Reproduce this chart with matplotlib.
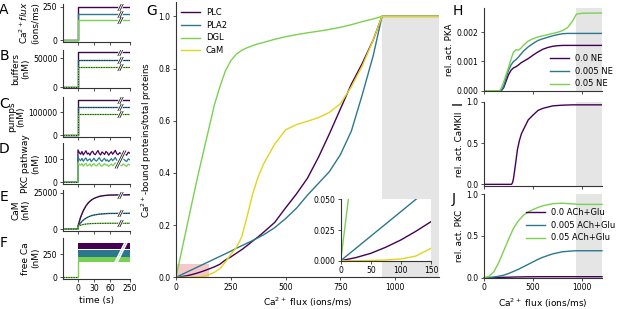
import numpy as np
import matplotlib
matplotlib.use("Agg")
import matplotlib.pyplot as plt

# colours (viridis-like)
c_purple = "#440154"
c_teal = "#2a788e"
c_green = "#7ad151"
c_yellow = "#e3d41c"
level_colors = [c_purple, c_teal, c_green]

# ---- left column: time courses (A-F) ----
flux_levels = [250, 200, 150]            # ions/ms
buffer_levels = [60000, 47000, 35000]    # nM
pump_levels = [152000, 120000, 90000]    # nM

t_cam = [0, 5, 10, 15, 20, 25, 30, 40, 50, 60, 250]
cam_purple = [2000, 8200, 12700, 16000, 18400, 20000, 21200, 22600, 23200, 23500, 23700]
cam_teal = [2000, 4300, 6200, 7500, 8500, 9200, 9700, 10300, 10600, 10800, 10900]
cam_green = [2000, 2700, 3150, 3450, 3650, 3780, 3860, 3940, 3980, 4000, 4000]

t_pkc = [0, 2.5, 5, 7.5, 10, 12.5, 15, 17.5, 20, 22.5, 25, 27.5, 30, 32.5, 35, 37.5, 40,
         42.5, 45, 47.5, 50, 52.5, 55, 57.5, 60, 62.5, 65, 67.5, 70, 72.5, 75,
         100, 125, 150, 175, 200, 225, 250]
pkc_purple = [140, 128, 121, 133, 118, 127, 136, 122, 126, 117, 130, 134, 123, 119, 129, 137,
              124, 118, 131, 126, 120, 133, 128, 117, 125, 132, 121, 129, 138, 124, 119,
              128, 120, 131, 123, 117, 130, 125]
pkc_teal = [110, 98, 93, 103, 90, 99, 105, 92, 97, 101, 89, 96, 104, 94, 91, 100,
            106, 95, 90, 98, 103, 92, 97, 89, 95, 102, 93, 99, 107, 96, 91,
            99, 92, 102, 95, 89, 101, 96]
pkc_green = [86, 76, 73, 80, 69, 77, 82, 70, 74, 79, 68, 75, 81, 72, 70, 78,
             83, 71, 69, 76, 80, 73, 75, 68, 74, 79, 71, 77, 84, 72, 70,
             77, 70, 79, 73, 68, 78, 74]

free_ca_lo = [305, 222, 160]
free_ca_hi = [372, 290, 215]

# ---- G: Ca-bound fraction vs flux ----
flux_g = [0, 25, 50, 75, 100, 125, 150, 175, 200, 225, 250, 275, 300, 325, 350, 375, 400,
          450, 500, 550, 600, 650, 700, 750, 800, 850, 900, 940, 1200]
plc = [0, 0.0025, 0.006, 0.011, 0.0169, 0.024, 0.0318, 0.040, 0.050, 0.066, 0.078, 0.092,
       0.106, 0.122, 0.139, 0.155, 0.173, 0.21, 0.266, 0.32, 0.38, 0.46, 0.55, 0.645,
       0.74, 0.82, 0.91, 1.0, 1.0]
pla2 = [0, 0.010, 0.020, 0.030, 0.040, 0.050, 0.060, 0.070, 0.080, 0.090, 0.100, 0.111,
        0.121, 0.131, 0.141, 0.152, 0.163, 0.19, 0.225, 0.265, 0.315, 0.36, 0.405, 0.47,
        0.56, 0.70, 0.85, 1.0, 1.0]
dgl = [0, 0.098, 0.196, 0.294, 0.39, 0.48, 0.57, 0.66, 0.73, 0.79, 0.83, 0.855, 0.87, 0.88,
       0.888, 0.895, 0.90, 0.912, 0.922, 0.93, 0.937, 0.943, 0.95, 0.958, 0.968, 0.98,
       0.99, 1.0, 1.0]
cam_bound = [0, 0, 0.0002, 0.0006, 0.0014, 0.0038, 0.0101, 0.019, 0.033, 0.058, 0.088, 0.113,
             0.155, 0.235, 0.32, 0.385, 0.435, 0.51, 0.565, 0.585, 0.598, 0.612, 0.632,
             0.665, 0.73, 0.81, 0.91, 1.0, 1.0]

# ---- H: PKA ----
flux_h = [0, 160, 175, 200, 225, 250, 275, 300, 325, 350, 375, 400, 450, 500, 550, 600, 650,
          700, 750, 800, 850, 900, 940, 1000, 1200]
pka_0 = [0, 0, 0, 0.0001, 0.00033, 0.00055, 0.0007, 0.00078, 0.00082, 0.00088, 0.00095,
         0.001, 0.0011, 0.00122, 0.00133, 0.00142, 0.00148, 0.00152, 0.00154, 0.00155,
         0.00155, 0.00155, 0.00155, 0.00155, 0.00155]
pka_005 = [0, 0, 0, 0.00015, 0.00045, 0.0007, 0.00088, 0.001, 0.00106, 0.00115, 0.00125,
           0.00135, 0.0015, 0.00162, 0.00172, 0.00178, 0.00183, 0.00188, 0.00192, 0.00195,
           0.00196, 0.00196, 0.00196, 0.00196, 0.00196]
pka_05 = [0, 0, 0.00008, 0.0003, 0.00055, 0.0008, 0.00108, 0.00132, 0.0014, 0.00139,
          0.00145, 0.00155, 0.0017, 0.00178, 0.00184, 0.00188, 0.00192, 0.00196, 0.002,
          0.00206, 0.00216, 0.00238, 0.00262, 0.00265, 0.00266]

# ---- I: CaMKII ----
flux_i = [0, 280, 290, 300, 320, 340, 360, 380, 400, 450, 500, 550, 600, 700, 800, 900, 1200]
camkii = [0, 0, 0.02, 0.07, 0.24, 0.42, 0.53, 0.61, 0.66, 0.78, 0.84, 0.895, 0.92, 0.95,
          0.958, 0.962, 0.962]

# ---- J: PKC ----
flux_j = [0, 50, 100, 150, 200, 250, 300, 350, 400, 450, 500, 550, 600, 700, 800, 900, 940,
          1000, 1200]
pkc_0 = [0, 0.001, 0.002, 0.003, 0.005, 0.006, 0.008, 0.009, 0.010, 0.011, 0.011, 0.012,
         0.012, 0.012, 0.012, 0.012, 0.012, 0.012, 0.012]
pkc_005 = [0, 0.002, 0.008, 0.018, 0.03, 0.05, 0.075, 0.1, 0.13, 0.16, 0.19, 0.22, 0.245,
           0.285, 0.31, 0.32, 0.322, 0.322, 0.322]
pkc_05 = [0, 0.015, 0.07, 0.18, 0.32, 0.46, 0.59, 0.68, 0.745, 0.785, 0.815, 0.84, 0.86,
          0.885, 0.89, 0.882, 0.877, 0.876, 0.876]

W, H = 617, 309
fig = plt.figure(figsize=(W / 100, H / 100), dpi=100)
plt.rcParams["font.family"] = "DejaVu Sans"


def box(x0, y0, x1, y1):
    # pixel box (top-left origin) -> figure fraction
    return [x0 / W, 1 - y1 / H, (x1 - x0) / W, (y1 - y0) / H]


def style(ax):
    for s in ["top", "right"]:
        ax.spines[s].set_visible(False)
    for s in ["left", "bottom"]:
        ax.spines[s].set_linewidth(0.8)
        ax.spines[s].set_color("#333333")
    ax.tick_params(labelsize=5.5, length=2.5, width=0.6, pad=1.5, color="#333333")


# broken time axis: linear up to 75 s, compressed afterwards
def fwd(t):
    t = np.asarray(t, dtype=float)
    return np.where(t <= 75, t, 75 + (t - 75) * 22.5 / 175)


def inv(u):
    u = np.asarray(u, dtype=float)
    return np.where(u <= 75, u, 75 + (u - 75) * 175 / 22.5)


t_break = 105
slash = [(-0.5, -1.0), (0.5, 1.0)]


def add_break(ax, y, size=6, color="#222222", gap="white", gap_width=3.0, width=0.6):
    # white gap with two slanted strokes
    if gap is not None:
        ax.plot([t_break], [y], marker=slash, ms=size, mew=gap_width, mec=gap, ls="none", zorder=5)
    for dt in (-20, 20):
        ax.plot([t_break + dt], [y], marker=slash, ms=size, mew=width, mec=color, ls="none", zorder=6)


left_boxes = [(63, 4, 130, 42), (63, 50, 130, 88), (63, 97, 130, 137),
              (63, 143, 130, 183.5), (63, 190, 130, 230.5), (63, 238, 130, 278.5)]
left_ylims = [(-15, 272), (-1700, 63800), (-7000, 165000), (-6.5, 170), (-1000, 27000), (-16, 424)]
left_yticks = [[0, 250], [0, 50000], [0, 100000], [0, 100], [0, 25000], [0, 250]]
left_labels = [r"Ca$^{2+}$$\it{flux}$" + "\n(ions/ms)", "buffers\n(nM)", "pumps\n(nM)",
               "PKC pathway\n(nM)", "CaM\n(nM)", "free Ca\n(nM)"]
left_letters = ["A", "B", "C", "D", "E", "F"]
letter_y = [10, 56, 104, 149, 197, 243]

dash = (0, (1.5, 1.5))
for k in range(6):
    ax = fig.add_axes(box(*left_boxes[k]))
    style(ax)
    ax.set_xscale("function", functions=(fwd, inv))
    ax.set_xlim(-28, 250)
    ax.set_ylim(*left_ylims[k])
    ax.set_yticks(left_yticks[k])
    ax.set_xticks([0, 30, 60, 250])
    if k < 5:
        ax.set_xticklabels([])
    else:
        ax.set_xlabel("time (s)", fontsize=6.5, labelpad=2)
    ax.set_ylabel(left_labels[k], fontsize=6.5, labelpad=2, linespacing=1.1)

    if k in (0, 1, 2):
        lev = [flux_levels, buffer_levels, pump_levels][k]
        for v, c in zip(lev, level_colors):
            ax.plot([-28, 0, 0, 250], [0, 0, v, v], color=c, lw=1.0)
            if k > 0:
                ax.plot([-28, 0, 0, 250], [0, 0, v, v], color="#222222", lw=0.6, ls=dash)
        for v in lev:
            add_break(ax, v, size=5)
    elif k == 3:
        for vals, c in zip([pkc_purple, pkc_teal, pkc_green], level_colors):
            ax.plot([-28, 0] + t_pkc, [0, 0] + vals, color=c, lw=0.9)
        ax.plot([-28, 0], [0, 0], color="#222222", lw=0.6, ls=dash)
        add_break(ax, 102, size=13, gap_width=3.5)
    elif k == 4:
        for vals, c in zip([cam_purple, cam_teal, cam_green], level_colors):
            ax.plot([-28, 0] + t_cam, [0, 0] + vals, color=c, lw=1.0)
            ax.plot([-28, 0] + t_cam, [0, 0] + vals, color="#222222", lw=0.6, ls=dash)
            add_break(ax, vals[-1], size=5)
    else:
        for lo, hi, c in zip(free_ca_lo, free_ca_hi, level_colors):
            ax.fill_between([0, 250], [lo, lo], [hi, hi], color=c, lw=0)
        ax.plot([-28, 0, 0], [0, 0, 160], color=c_green, lw=1.0)
        ax.plot([-28, 0], [0, 0], color="#222222", lw=0.6, ls=dash)
        add_break(ax, 266, size=16, color="white", gap=None, width=1.2)
    fig.text(4 / W, 1 - letter_y[k] / H, left_letters[k], fontsize=10,
             ha="center", va="center")

# ---- G ----
axg = fig.add_axes(box(176, 2, 439, 277.3))
style(axg)
axg.set_xlim(0, 1200)
axg.set_ylim(0, 1.055)
axg.fill_between([940, 1200], 0, 1.0, color="#e5e5e5", lw=0)
axg.fill_between([0, 150], 0, 0.05, color="#f5c9c9", lw=0)
g_series = [("PLC", plc, c_purple), ("PLA2", pla2, c_teal), ("DGL", dgl, c_green),
            ("CaM", cam_bound, c_yellow)]
for name, vals, c in g_series:
    axg.plot(flux_g, vals, color=c, lw=1.0, label=name)
axg.set_xticks([0, 250, 500, 750, 1000])
axg.set_yticks([0, 0.2, 0.4, 0.6, 0.8, 1.0])
axg.set_xlabel(r"Ca$^{2+}$ flux (ions/ms)", fontsize=6.5, labelpad=3)
axg.set_ylabel(r"Ca$^{2+}$-bound proteins/total proteins", fontsize=6.3, labelpad=3)
axg.legend(loc="upper left", bbox_to_anchor=(181 / W, 1 - 8 / H), bbox_transform=fig.transFigure,
           frameon=False, fontsize=6, handlelength=2.3, handletextpad=0.7,
           labelspacing=0.45, borderpad=0, borderaxespad=0)
fig.text(152 / W, 1 - 11 / H, "G", fontsize=10, ha="center", va="center")

axin = fig.add_axes(box(340.7, 199.3, 431, 260.7))
style(axin)
axin.set_facecolor("white")
for name, vals, c in g_series:
    axin.plot(flux_g, vals, color=c, lw=1.0)
axin.set_xlim(0, 150)
axin.set_ylim(0, 0.05)
axin.set_xticks([0, 50, 100, 150])
axin.set_yticks([0, 0.025, 0.05])
axin.set_yticklabels(["0.000", "0.025", "0.050"])

# ---- H, I, J ----
right_boxes = [(484, 8, 602, 90.7), (484, 101.7, 602, 186), (484, 194, 602, 277.7)]
axh = fig.add_axes(box(*right_boxes[0]))
axi = fig.add_axes(box(*right_boxes[1]))
axj = fig.add_axes(box(*right_boxes[2]))
for ax in (axh, axi, axj):
    style(ax)
    ax.set_xlim(0, 1200)
    ax.axvspan(940, 1200, color="#e5e5e5", lw=0)
    ax.set_xticks([0, 500, 1000])

axh.set_ylim(0, 0.00283)
axh.set_yticks([0, 0.001, 0.002])
axh.set_yticklabels(["0.000", "0.001", "0.002"])
for vals, c, lab in zip([pka_0, pka_005, pka_05], level_colors, ["0.0 NE", "0.005 NE", "0.05 NE"]):
    axh.plot(flux_h, vals, color=c, lw=1.0, label=lab)
axh.set_xticklabels([])
axh.set_ylabel("rel. act. PKA", fontsize=6.3, labelpad=2)
axh.legend(loc="upper left", bbox_to_anchor=(550 / W, 1 - 54 / H), bbox_transform=fig.transFigure,
           frameon=False, fontsize=6, handlelength=2.3, handletextpad=0.7,
           labelspacing=0.45, borderpad=0, borderaxespad=0)

axi.set_ylim(-0.02, 1.0)
axi.set_yticks([0, 0.5, 1.0])
axi.plot(flux_i, camkii, color=c_purple, lw=1.0)
axi.set_xticklabels([])
axi.set_ylabel("rel. act. CaMKII", fontsize=6.3, labelpad=2)

axj.set_ylim(0, 1.0)
axj.set_yticks([0, 0.5, 1.0])
for vals, c, lab in zip([pkc_0, pkc_005, pkc_05], level_colors,
                        ["0.0 ACh+Glu", "0.005 ACh+Glu", "0.05 ACh+Glu"]):
    axj.plot(flux_j, vals, color=c, lw=1.0, label=lab, clip_on=False)
axj.set_xlabel(r"Ca$^{2+}$ flux (ions/ms)", fontsize=6.5, labelpad=3)
axj.set_ylabel("rel. act. PKC", fontsize=6.3, labelpad=2)
axj.legend(loc="upper left", bbox_to_anchor=(526 / W, 1 - 208 / H), bbox_transform=fig.transFigure,
           frameon=False, fontsize=6, handlelength=2.3, handletextpad=0.7,
           labelspacing=0.45, borderpad=0, borderaxespad=0)

fig.text(458 / W, 1 - 11 / H, "H", fontsize=10, ha="center", va="center")
fig.text(458 / W, 1 - 103 / H, "I", fontsize=10, ha="center", va="center", rotation=90)
fig.text(454 / W, 1 - 199 / H, "J", fontsize=10, ha="center", va="center")

fig.savefig("out.png", dpi=100)
